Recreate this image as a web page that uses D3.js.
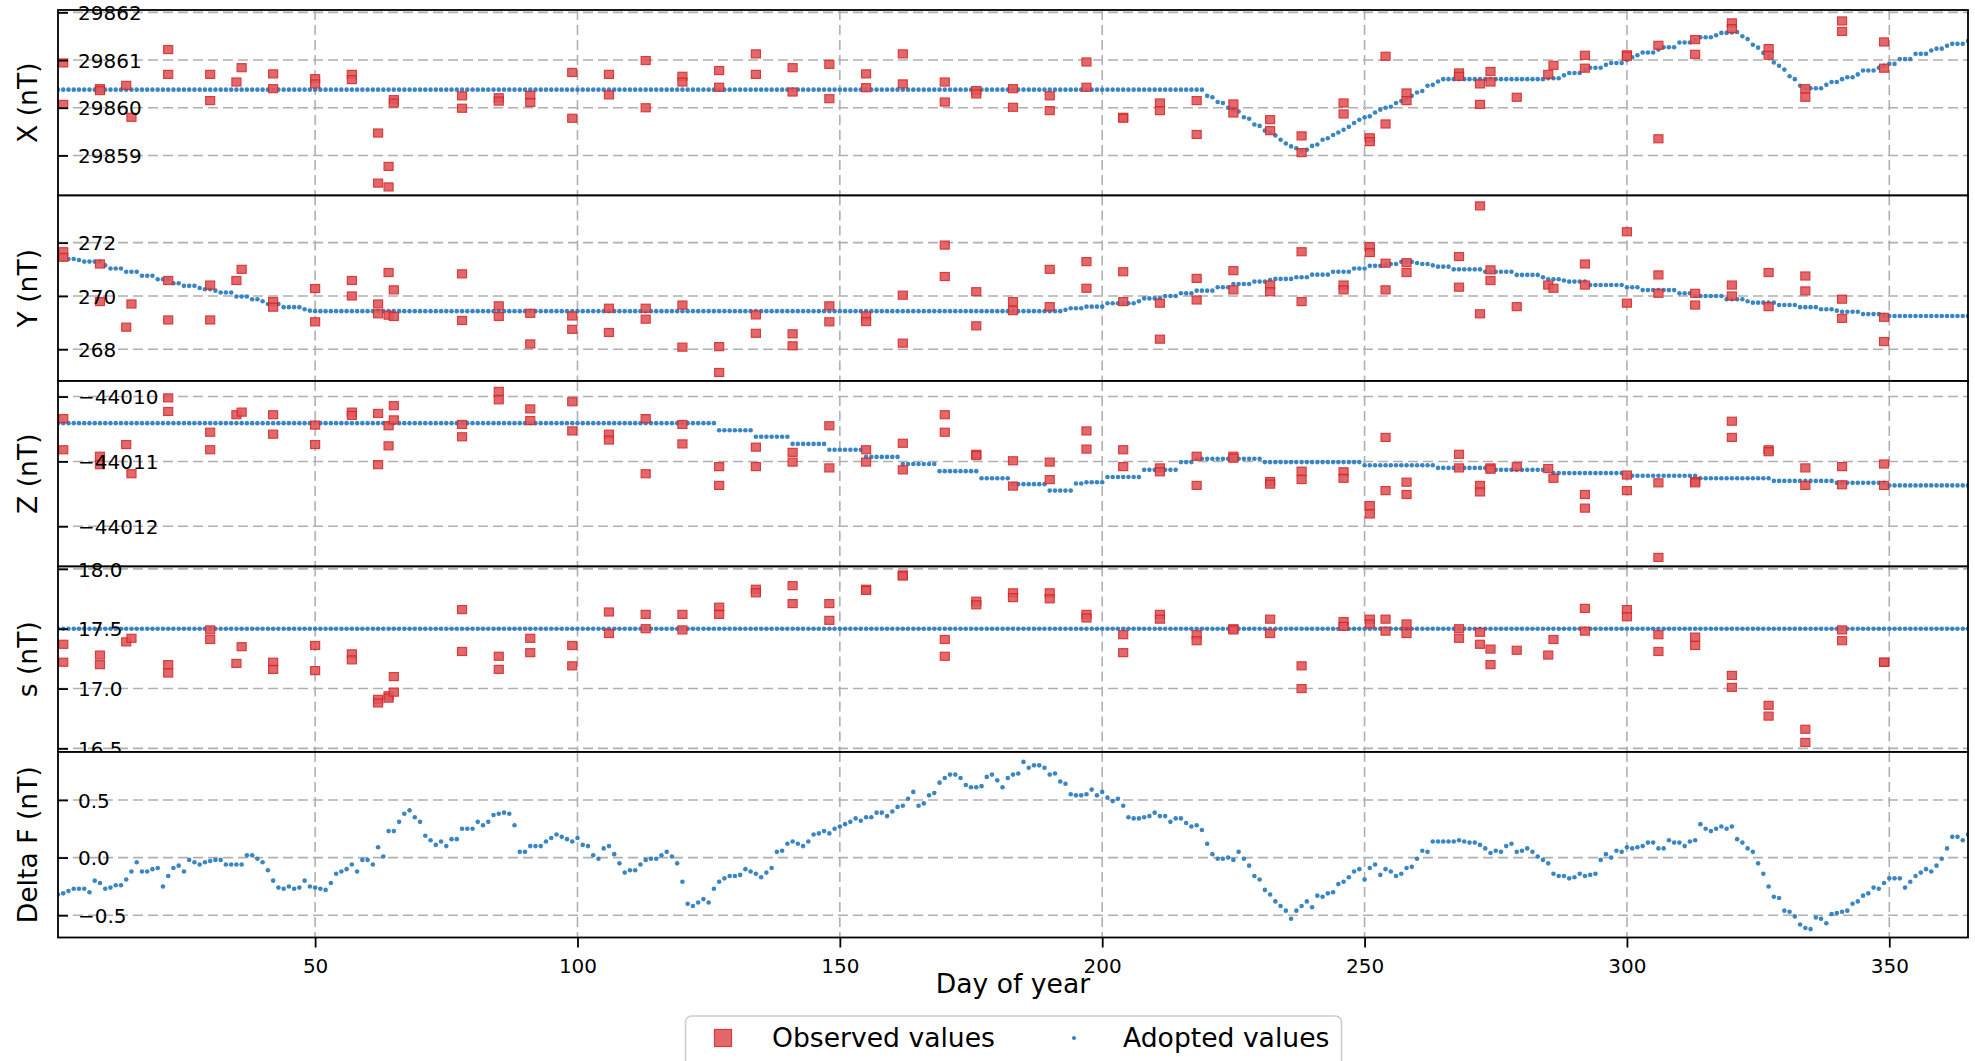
<!DOCTYPE html>
<html><head><meta charset="utf-8">
<script src="https://cdn.jsdelivr.net/npm/d3@7"></script>
<style>
html,body{margin:0;padding:0;background:#fff;}
svg{display:block;font-family:"DejaVu Sans",sans-serif;}
</style></head><body>
<svg id="chart" width="1975" height="1061"></svg>
<script>
// ---------------- DATA ----------------
const xTickDays = [50,100,150,200,250,300,350];
const xPanelTicks = [29859,29860,29861,29862];
const yPanelTicks = [268,270,272];
const zPanelTicks = [-44012,-44011,-44010];
const sPanelTicks = [16.5,17.0,17.5,18.0];
const dfPanelTicks = [-0.5,0.0,0.5];

// days of the weekly absolute observations (shared by X, Y, Z, s)
const obsDays = [2,2,9,9,14,15,22,22,30,30,35,36,42,42,50,50,57,57,62,62,64,64,65,65,78,78,85,85,91,91,99,99,
106,106,113,113,120,120,127,127,134,134,141,141,148,148,155,155,162,162,170,170,176,176,183,183,190,190,197,197,
204,204,211,211,218,218,225,225,232,232,238,238,246,246,251,251,254,254,258,258,268,268,272,272,274,274,279,285,286,
292,292,300,300,306,306,313,313,320,320,327,327,334,334,341,341,349,349];

const xObserved = [29860.94,29860.07, 29860.40,29860.36, 29860.47, 29859.80, 29861.22,29860.70, 29860.70,29860.15,
29860.54, 29860.84, 29860.71,29860.40, 29860.61,29860.50, 29860.70,29860.59, 29859.47,29858.42, 29858.77,29858.34,
29860.17,29860.10, 29860.25,29859.99, 29860.21,29860.14, 29860.26,29860.11, 29860.74,29859.78, 29860.70,29860.27,
29860.99,29860.00, 29860.66,29860.54, 29860.78,29860.43, 29861.13,29860.70, 29860.84,29860.33, 29860.91,29860.19,
29860.71,29860.42, 29861.13,29860.50, 29860.54,29860.12, 29860.36,29860.29, 29860.40,29860.01, 29860.25,29859.94,
29860.96,29860.43, 29859.80,29859.78, 29860.10,29859.94, 29860.15,29859.44, 29860.08,29859.89, 29859.75,29859.52,
29859.41,29859.06, 29860.10,29859.87, 29859.37,29859.29, 29861.08,29859.66, 29860.31,29860.15, 29860.73,29860.66,
29860.50,29860.07, 29860.76,29860.54, 29860.22, 29860.70, 29860.89, 29861.10,29860.83, 29861.11,29861.08,
29861.31,29859.35, 29861.43,29861.12, 29861.78,29861.66, 29861.24,29861.10, 29860.40,29860.22, 29861.82,29861.60,
29861.38,29860.83];

const yObserved = [271.66,271.45, 271.20,269.79, 268.83, 269.70, 270.58,269.10, 270.41,269.10,
270.58, 271.00, 269.79,269.58, 270.28,269.03, 270.58,270.00, 269.70,269.33, 270.88,269.28,
270.23,269.23, 270.83,269.08, 269.63,269.23, 269.35,268.20, 269.25,268.75, 269.54,268.63,
269.54,269.13, 269.66,268.08, 268.10,267.13, 269.29,268.60, 268.58,268.13, 269.63,269.03,
269.25,269.04, 270.03,268.23, 271.91,270.73, 270.16,268.88, 269.79,269.45, 271.00,269.60,
271.29,270.29, 270.91,269.79, 269.73,268.38, 270.66,269.85, 270.95,270.23, 270.41,270.16,
271.66,269.79, 270.41,270.23, 271.85,271.63, 271.23,270.23, 271.25,270.88, 271.48,270.33,
273.38,269.33, 270.98,270.58, 269.60, 270.41, 270.29, 271.20,270.41, 272.41,269.73,
270.79,270.10, 270.10,269.66, 270.41,270.00, 270.88,269.60, 270.75,270.19, 269.88,269.16,
269.20,268.29];

const zObserved = [-44010.34,-44010.82, -44010.92,-44011.05, -44010.74, -44011.19, -44010.02,-44010.23, -44010.55,-44010.82,
-44010.28, -44010.24, -44010.28,-44010.58, -44010.44,-44010.74, -44010.24,-44010.29, -44010.26,-44011.05, -44010.45,-44010.76,
-44010.14,-44010.36, -44010.43,-44010.62, -44009.92,-44010.05, -44010.19,-44010.37, -44010.08,-44010.53, -44010.58,-44010.67,
-44010.34,-44011.19, -44010.43,-44010.73, -44011.08,-44011.37, -44010.78,-44011.08, -44010.86,-44011.01, -44010.45,-44011.10,
-44010.82,-44011.01, -44010.72,-44011.13, -44010.28,-44010.55, -44010.89,-44010.91, -44010.99,-44011.38, -44011.01,-44011.28,
-44010.53,-44010.81, -44010.82,-44011.08, -44011.10,-44011.16, -44010.92,-44011.37, -44010.92,-44010.95, -44011.31,-44011.35,
-44011.15,-44011.28, -44011.16,-44011.26, -44011.68,-44011.81, -44010.63,-44011.45, -44011.32,-44011.51, -44010.89,-44011.10,
-44011.37,-44011.47, -44011.10,-44011.12, -44011.08, -44011.11, -44011.26, -44011.51,-44011.72, -44011.21,-44011.45,
-44011.33,-44012.48, -44011.31,-44011.33, -44010.38,-44010.63, -44010.82,-44010.85, -44011.10,-44011.37, -44011.08,-44011.36,
-44011.04,-44011.37];

const sObserved = [17.37,17.22, 17.28,17.20, 17.39, 17.42, 17.20,17.13, 17.49,17.41,
17.21, 17.35, 17.22,17.16, 17.36,17.15, 17.29,17.24, 16.91,16.88, 16.94,16.92,
17.10,16.97, 17.66,17.31, 17.27,17.16, 17.42,17.30, 17.36,17.19, 17.64,17.46,
17.62,17.50, 17.62,17.49, 17.68,17.62, 17.83,17.80, 17.86,17.71, 17.71,17.57,
17.83,17.82, 17.95,17.94, 17.41,17.27, 17.73,17.70, 17.80,17.76, 17.80,17.75,
17.62,17.59, 17.45,17.30, 17.62,17.58, 17.45,17.40, 17.50,17.49, 17.58,17.46,
17.19,17.00, 17.56,17.52, 17.58,17.54, 17.58,17.48, 17.54,17.46, 17.50,17.42,
17.47,17.37, 17.33,17.20, 17.32, 17.28, 17.41, 17.67,17.48, 17.66,17.60,
17.45,17.31, 17.43,17.36, 17.11,17.01, 16.86,16.77, 16.66,16.55, 17.49,17.40,
17.22,17.22];

// adopted daily baseline values, day 1..365
const xAdopted = [
29860.38,29860.38,29860.38,29860.38,29860.38,29860.38,29860.38,29860.38,29860.38,29860.38,
29860.38,29860.38,29860.38,29860.38,29860.38,29860.38,29860.38,29860.38,29860.38,29860.38,
29860.38,29860.38,29860.38,29860.38,29860.38,29860.38,29860.38,29860.38,29860.38,29860.38,
29860.38,29860.38,29860.38,29860.38,29860.38,29860.38,29860.38,29860.38,29860.38,29860.38,
29860.38,29860.38,29860.38,29860.38,29860.38,29860.38,29860.38,29860.38,29860.38,29860.38,
29860.38,29860.38,29860.38,29860.38,29860.38,29860.38,29860.38,29860.38,29860.38,29860.38,
29860.38,29860.38,29860.38,29860.38,29860.38,29860.38,29860.38,29860.38,29860.38,29860.38,
29860.38,29860.38,29860.38,29860.38,29860.38,29860.38,29860.38,29860.38,29860.38,29860.38,
29860.38,29860.38,29860.38,29860.38,29860.38,29860.38,29860.38,29860.38,29860.38,29860.38,
29860.38,29860.38,29860.38,29860.38,29860.38,29860.38,29860.38,29860.38,29860.38,29860.38,
29860.38,29860.38,29860.38,29860.38,29860.38,29860.38,29860.38,29860.38,29860.38,29860.38,
29860.38,29860.38,29860.38,29860.38,29860.38,29860.38,29860.38,29860.38,29860.38,29860.38,
29860.38,29860.38,29860.38,29860.38,29860.38,29860.38,29860.38,29860.38,29860.38,29860.38,
29860.38,29860.38,29860.38,29860.38,29860.38,29860.38,29860.38,29860.38,29860.38,29860.38,
29860.38,29860.38,29860.38,29860.38,29860.38,29860.38,29860.38,29860.38,29860.38,29860.38,
29860.38,29860.38,29860.38,29860.38,29860.38,29860.38,29860.38,29860.38,29860.38,29860.38,
29860.38,29860.38,29860.38,29860.38,29860.38,29860.38,29860.38,29860.38,29860.38,29860.38,
29860.38,29860.38,29860.38,29860.38,29860.38,29860.38,29860.38,29860.38,29860.38,29860.38,
29860.38,29860.38,29860.38,29860.38,29860.38,29860.38,29860.38,29860.38,29860.38,29860.38,
29860.38,29860.38,29860.38,29860.38,29860.38,29860.38,29860.38,29860.38,29860.38,29860.38,
29860.38,29860.38,29860.38,29860.38,29860.38,29860.38,29860.38,29860.38,29860.38,29860.38,
29860.38,29860.38,29860.38,29860.38,29860.38,29860.38,29860.38,29860.38,29860.38,
29860.25,29860.22,29860.12,29860.10,29860.00,29859.95,29859.92,29859.80,29859.77,29859.65,
29859.62,29859.52,29859.48,29859.42,29859.33,29859.25,29859.19,29859.15,29859.10,29859.12,
29859.20,29859.23,29859.33,29859.36,29859.43,29859.48,29859.54,29859.60,29859.68,29859.75,
29859.80,29859.82,29859.90,29859.96,29860.00,29860.02,29860.10,29860.14,29860.19,29860.25,
29860.32,29860.35,29860.46,29860.48,29860.55,29860.60,29860.60,29860.60,29860.60,29860.60,
29860.60,29860.60,29860.60,29860.60,29860.60,29860.60,29860.60,29860.60,29860.60,29860.60,
29860.60,29860.60,29860.60,29860.60,29860.60,29860.62,29860.62,29860.62,29860.68,29860.73,
29860.73,29860.73,29860.80,29860.84,29860.84,29860.84,29860.90,29860.94,29860.94,29860.94,
29861.00,29861.06,29861.10,29861.16,29861.16,29861.16,29861.22,29861.27,29861.27,29861.27,
29861.37,29861.37,29861.37,29861.42,29861.48,29861.48,29861.48,29861.52,29861.57,29861.57,
29861.58,29861.59,29861.50,29861.44,29861.32,29861.26,29861.15,29861.09,29860.95,29860.88,
29860.80,29860.66,29860.60,29860.46,29860.41,29860.41,29860.41,29860.41,29860.48,29860.54,
29860.54,29860.60,29860.64,29860.64,29860.70,29860.78,29860.78,29860.78,29860.84,29860.88,
29860.92,29860.92,29861.02,29861.02,29861.02,29861.13,29861.13,29861.13,29861.20,29861.24,
29861.24,29861.30,29861.34,29861.34,29861.34,29861.40];

const yAdopted = [
271.40,271.39,271.39,271.39,271.35,271.29,271.29,271.29,271.29,271.15,
271.03,271.03,271.03,270.91,270.91,270.91,270.76,270.76,270.76,270.63,
270.63,270.63,270.48,270.48,270.38,270.38,270.38,270.30,270.25,270.25,
270.20,270.13,270.13,270.13,269.98,269.98,269.98,269.88,269.88,269.80,
269.70,269.70,269.70,269.58,269.58,269.58,269.58,269.50,269.45,269.43,
269.43,269.43,269.43,269.43,269.43,269.43,269.43,269.43,269.43,269.43,
269.43,269.43,269.43,269.43,269.43,269.43,269.43,269.43,269.43,269.43,
269.43,269.43,269.43,269.43,269.43,269.43,269.43,269.43,269.43,269.43,
269.43,269.43,269.43,269.43,269.43,269.43,269.43,269.43,269.43,269.43,
269.43,269.43,269.43,269.43,269.43,269.43,269.43,269.43,269.43,269.43,
269.43,269.43,269.43,269.43,269.43,269.43,269.43,269.43,269.43,269.43,
269.43,269.43,269.43,269.43,269.43,269.43,269.43,269.43,269.43,269.43,
269.43,269.43,269.43,269.43,269.43,269.43,269.43,269.43,269.43,269.43,
269.43,269.43,269.43,269.43,269.43,269.43,269.43,269.43,269.43,269.43,
269.43,269.43,269.43,269.43,269.43,269.43,269.43,269.43,269.43,269.43,
269.43,269.43,269.43,269.43,269.43,269.43,269.43,269.43,269.43,269.43,
269.43,269.43,269.43,269.43,269.43,269.43,269.43,269.43,269.43,269.43,
269.43,269.43,269.43,269.43,269.43,269.43,269.43,269.43,269.43,269.43,
269.43,269.43,269.43,269.43,269.43,269.43,269.43,269.43,269.43,269.43,
269.43,269.43,269.48,269.54,269.54,269.54,269.60,269.60,269.60,269.60,
269.73,269.73,269.73,269.73,269.73,269.73,269.80,269.91,269.91,269.91,
269.91,270.00,270.00,270.00,270.10,270.10,270.10,270.20,270.20,270.20,
270.20,270.33,270.33,270.33,270.45,270.45,270.45,270.45,270.54,270.54,
270.54,270.60,270.64,270.64,270.64,270.64,270.70,270.70,270.70,270.80,
270.80,270.80,270.80,270.91,270.91,270.91,270.91,271.03,271.03,271.03,
271.13,271.13,271.13,271.16,271.20,271.20,271.28,271.28,271.28,271.24,
271.20,271.20,271.15,271.10,271.10,271.10,271.00,271.00,271.00,271.00,
271.00,271.00,270.91,270.91,270.91,270.91,270.91,270.91,270.79,270.79,
270.79,270.79,270.79,270.70,270.63,270.63,270.63,270.58,270.54,270.54,
270.54,270.54,270.41,270.41,270.41,270.41,270.41,270.41,270.41,270.33,
270.33,270.33,270.22,270.22,270.22,270.22,270.22,270.22,270.22,270.10,
270.10,270.10,270.00,270.00,270.00,270.00,270.00,270.00,269.88,269.88,
269.88,269.88,269.80,269.75,269.75,269.75,269.75,269.75,269.66,269.66,
269.66,269.66,269.58,269.58,269.58,269.58,269.50,269.50,269.50,269.45,
269.41,269.41,269.41,269.41,269.32,269.32,269.32,269.32,269.28,269.25,
269.25,269.25,269.25,269.25,269.25,269.25,269.25,269.25,269.25,269.25,
269.25,269.25,269.25,269.25,269.25];

const zAdopted = [
-44010.41,-44010.41,-44010.41,-44010.41,-44010.41,-44010.41,-44010.41,-44010.41,-44010.41,-44010.41,
-44010.41,-44010.41,-44010.41,-44010.41,-44010.41,-44010.41,-44010.41,-44010.41,-44010.41,-44010.41,
-44010.41,-44010.41,-44010.41,-44010.41,-44010.41,-44010.41,-44010.41,-44010.41,-44010.41,-44010.41,
-44010.41,-44010.41,-44010.41,-44010.41,-44010.41,-44010.41,-44010.41,-44010.41,-44010.41,-44010.41,
-44010.41,-44010.41,-44010.41,-44010.41,-44010.41,-44010.41,-44010.41,-44010.41,-44010.41,-44010.41,
-44010.41,-44010.41,-44010.41,-44010.41,-44010.41,-44010.41,-44010.41,-44010.41,-44010.41,-44010.41,
-44010.41,-44010.41,-44010.41,-44010.41,-44010.41,-44010.41,-44010.41,-44010.41,-44010.41,-44010.41,
-44010.41,-44010.41,-44010.41,-44010.41,-44010.41,-44010.41,-44010.41,-44010.41,-44010.41,-44010.41,
-44010.41,-44010.41,-44010.41,-44010.41,-44010.41,-44010.41,-44010.41,-44010.41,-44010.41,-44010.41,
-44010.41,-44010.41,-44010.41,-44010.41,-44010.41,-44010.41,-44010.41,-44010.41,-44010.41,-44010.41,
-44010.41,-44010.41,-44010.41,-44010.41,-44010.41,-44010.41,-44010.41,-44010.41,-44010.41,-44010.41,
-44010.41,-44010.41,-44010.41,-44010.41,-44010.41,-44010.41,-44010.41,-44010.41,-44010.41,-44010.41,
-44010.41,-44010.41,-44010.41,-44010.41,-44010.41,-44010.41,-44010.52,-44010.52,-44010.52,-44010.52,
-44010.52,-44010.52,-44010.52,-44010.62,-44010.62,-44010.62,-44010.62,-44010.62,-44010.62,-44010.62,
-44010.73,-44010.73,-44010.73,-44010.73,-44010.73,-44010.73,-44010.73,-44010.82,-44010.82,-44010.82,
-44010.82,-44010.82,-44010.82,-44010.82,-44010.93,-44010.93,-44010.93,-44010.93,-44010.93,-44010.93,
-44010.93,-44011.04,-44011.04,-44011.04,-44011.04,-44011.04,-44011.04,-44011.04,-44011.15,-44011.15,
-44011.15,-44011.15,-44011.15,-44011.15,-44011.15,-44011.15,-44011.26,-44011.26,-44011.26,-44011.26,
-44011.26,-44011.26,-44011.35,-44011.35,-44011.35,-44011.35,-44011.35,-44011.35,-44011.35,-44011.45,
-44011.45,-44011.45,-44011.45,-44011.45,-44011.34,-44011.34,-44011.32,-44011.32,-44011.32,-44011.32,
-44011.24,-44011.24,-44011.24,-44011.24,-44011.24,-44011.24,-44011.24,-44011.13,-44011.13,-44011.13,
-44011.13,-44011.13,-44011.13,-44011.13,-44011.01,-44011.01,-44011.01,-44010.96,-44010.96,-44010.96,
-44010.96,-44010.96,-44010.96,-44010.96,-44010.96,-44010.96,-44010.96,-44010.96,-44010.96,-44010.96,
-44011.01,-44011.01,-44011.01,-44011.01,-44011.01,-44011.01,-44011.01,-44011.01,-44011.01,-44011.01,
-44011.01,-44011.01,-44011.01,-44011.01,-44011.01,-44011.01,-44011.01,-44011.01,-44011.01,-44011.06,
-44011.06,-44011.06,-44011.06,-44011.06,-44011.06,-44011.06,-44011.06,-44011.06,-44011.06,-44011.06,
-44011.06,-44011.06,-44011.06,-44011.10,-44011.10,-44011.10,-44011.10,-44011.10,-44011.10,-44011.10,
-44011.10,-44011.10,-44011.10,-44011.10,-44011.13,-44011.13,-44011.13,-44011.13,-44011.13,-44011.13,
-44011.13,-44011.13,-44011.13,-44011.13,-44011.13,-44011.18,-44011.18,-44011.18,-44011.18,-44011.18,
-44011.18,-44011.18,-44011.18,-44011.18,-44011.18,-44011.18,-44011.18,-44011.18,-44011.18,-44011.22,
-44011.22,-44011.22,-44011.22,-44011.22,-44011.22,-44011.22,-44011.22,-44011.22,-44011.22,-44011.22,
-44011.22,-44011.22,-44011.22,-44011.26,-44011.26,-44011.26,-44011.26,-44011.26,-44011.26,-44011.26,
-44011.26,-44011.26,-44011.26,-44011.26,-44011.26,-44011.26,-44011.26,-44011.30,-44011.30,-44011.30,
-44011.30,-44011.30,-44011.30,-44011.30,-44011.30,-44011.30,-44011.30,-44011.30,-44011.30,-44011.33,
-44011.33,-44011.33,-44011.33,-44011.33,-44011.33,-44011.33,-44011.33,-44011.33,-44011.33,-44011.37,
-44011.37,-44011.37,-44011.37,-44011.37,-44011.37,-44011.37,-44011.37,-44011.37,-44011.37,-44011.37,
-44011.37,-44011.37,-44011.37,-44011.37,-44011.37];

const sAdopted = [
17.5,17.5,17.5,17.5,17.5,17.5,17.5,17.5,17.5,17.5,17.5,17.5,17.5,17.5,17.5,17.5,17.5,17.5,17.5,17.5,
17.5,17.5,17.5,17.5,17.5,17.5,17.5,17.5,17.5,17.5,17.5,17.5,17.5,17.5,17.5,17.5,17.5,17.5,17.5,17.5,
17.5,17.5,17.5,17.5,17.5,17.5,17.5,17.5,17.5,17.5,17.5,17.5,17.5,17.5,17.5,17.5,17.5,17.5,17.5,17.5,
17.5,17.5,17.5,17.5,17.5,17.5,17.5,17.5,17.5,17.5,17.5,17.5,17.5,17.5,17.5,17.5,17.5,17.5,17.5,17.5,
17.5,17.5,17.5,17.5,17.5,17.5,17.5,17.5,17.5,17.5,17.5,17.5,17.5,17.5,17.5,17.5,17.5,17.5,17.5,17.5,
17.5,17.5,17.5,17.5,17.5,17.5,17.5,17.5,17.5,17.5,17.5,17.5,17.5,17.5,17.5,17.5,17.5,17.5,17.5,17.5,
17.5,17.5,17.5,17.5,17.5,17.5,17.5,17.5,17.5,17.5,17.5,17.5,17.5,17.5,17.5,17.5,17.5,17.5,17.5,17.5,
17.5,17.5,17.5,17.5,17.5,17.5,17.5,17.5,17.5,17.5,17.5,17.5,17.5,17.5,17.5,17.5,17.5,17.5,17.5,17.5,
17.5,17.5,17.5,17.5,17.5,17.5,17.5,17.5,17.5,17.5,17.5,17.5,17.5,17.5,17.5,17.5,17.5,17.5,17.5,17.5,
17.5,17.5,17.5,17.5,17.5,17.5,17.5,17.5,17.5,17.5,17.5,17.5,17.5,17.5,17.5,17.5,17.5,17.5,17.5,17.5,
17.5,17.5,17.5,17.5,17.5,17.5,17.5,17.5,17.5,17.5,17.5,17.5,17.5,17.5,17.5,17.5,17.5,17.5,17.5,17.5,
17.5,17.5,17.5,17.5,17.5,17.5,17.5,17.5,17.5,17.5,17.5,17.5,17.5,17.5,17.5,17.5,17.5,17.5,17.5,17.5,
17.5,17.5,17.5,17.5,17.5,17.5,17.5,17.5,17.5,17.5,17.5,17.5,17.5,17.5,17.5,17.5,17.5,17.5,17.5,17.5,
17.5,17.5,17.5,17.5,17.5,17.5,17.5,17.5,17.5,17.5,17.5,17.5,17.5,17.5,17.5,17.5,17.5,17.5,17.5,17.5,
17.5,17.5,17.5,17.5,17.5,17.5,17.5,17.5,17.5,17.5,17.5,17.5,17.5,17.5,17.5,17.5,17.5,17.5,17.5,17.5,
17.5,17.5,17.5,17.5,17.5,17.5,17.5,17.5,17.5,17.5,17.5,17.5,17.5,17.5,17.5,17.5,17.5,17.5,17.5,17.5,
17.5,17.5,17.5,17.5,17.5,17.5,17.5,17.5,17.5,17.5,17.5,17.5,17.5,17.5,17.5,17.5,17.5,17.5,17.5,17.5,
17.5,17.5,17.5,17.5,17.5,17.5,17.5,17.5,17.5,17.5,17.5,17.5,17.5,17.5,17.5,17.5,17.5,17.5,17.5,17.5,
17.5,17.5,17.5,17.5,17.5];

const deltaF = [
-0.32,-0.31,-0.29,-0.27,-0.27,-0.27,-0.30,-0.20,-0.22,-0.27,
-0.26,-0.24,-0.24,-0.19,-0.12,-0.04,-0.12,-0.12,-0.10,-0.09,
-0.25,-0.16,-0.09,-0.07,-0.12,-0.02,-0.04,-0.06,-0.04,-0.03,
-0.02,-0.02,-0.06,-0.06,-0.06,-0.06,0.02,0.02,-0.01,-0.04,
-0.11,-0.20,-0.26,-0.27,-0.25,-0.27,-0.26,-0.20,-0.25,-0.26,
-0.27,-0.28,-0.22,-0.14,-0.12,-0.10,-0.06,-0.12,-0.02,-0.02,
-0.06,0.09,0.01,0.23,0.23,0.31,0.38,0.41,0.35,0.31,
0.19,0.15,0.11,0.14,0.10,0.16,0.16,0.25,0.25,0.25,
0.31,0.28,0.31,0.37,0.38,0.39,0.38,0.28,0.05,0.05,
0.10,0.10,0.10,0.14,0.17,0.20,0.18,0.16,0.14,0.17,
0.11,0.10,0.02,-0.01,0.08,0.10,0.03,-0.05,-0.13,-0.11,
-0.11,-0.06,-0.02,-0.01,-0.01,0.02,0.05,0.01,-0.05,-0.21,
-0.40,-0.42,-0.39,-0.36,-0.39,-0.27,-0.21,-0.18,-0.16,-0.16,
-0.15,-0.10,-0.12,-0.14,-0.17,-0.13,-0.09,0.05,0.06,0.12,
0.14,0.12,0.10,0.14,0.20,0.21,0.23,0.21,0.25,0.27,
0.29,0.31,0.34,0.32,0.35,0.35,0.39,0.39,0.36,0.40,
0.44,0.45,0.51,0.57,0.45,0.47,0.54,0.56,0.65,0.69,
0.72,0.72,0.69,0.63,0.61,0.61,0.62,0.70,0.72,0.67,
0.61,0.69,0.72,0.73,0.83,0.78,0.80,0.80,0.78,0.72,
0.73,0.66,0.64,0.55,0.54,0.54,0.55,0.59,0.54,0.57,
0.52,0.49,0.51,0.45,0.35,0.34,0.34,0.35,0.36,0.39,
0.36,0.36,0.31,0.34,0.34,0.30,0.27,0.28,0.24,0.12,
0.03,-0.01,-0.01,0.00,-0.02,0.05,-0.01,-0.07,-0.16,-0.19,
-0.28,-0.32,-0.38,-0.42,-0.46,-0.53,-0.46,-0.42,-0.38,-0.43,
-0.33,-0.34,-0.31,-0.30,-0.23,-0.21,-0.17,-0.12,-0.10,-0.19,
-0.09,-0.06,-0.15,-0.10,-0.12,-0.16,-0.14,-0.09,-0.08,-0.01,
0.06,0.05,0.14,0.14,0.14,0.14,0.14,0.15,0.14,0.13,
0.13,0.11,0.08,0.04,0.06,0.05,0.10,0.12,0.05,0.06,
0.08,0.05,0.01,-0.02,-0.05,-0.14,-0.16,-0.16,-0.18,-0.17,
-0.14,-0.16,-0.15,-0.14,-0.02,0.03,0.00,0.06,0.05,0.09,
0.08,0.09,0.10,0.13,0.13,0.08,0.08,0.15,0.13,0.13,
0.10,0.14,0.15,0.29,0.25,0.23,0.25,0.27,0.25,0.27,
0.16,0.13,0.08,0.05,-0.05,-0.14,-0.25,-0.34,-0.35,-0.46,
-0.47,-0.51,-0.58,-0.61,-0.62,-0.52,-0.53,-0.57,-0.49,-0.48,
-0.47,-0.46,-0.40,-0.38,-0.33,-0.31,-0.26,-0.27,-0.22,-0.18,
-0.18,-0.18,-0.26,-0.21,-0.16,-0.13,-0.10,-0.12,-0.07,-0.01,
0.08,0.18,0.18,0.15,0.20];

// ---------------- DRAW ----------------
const svg = d3.select("#chart");
const W = 1975, H = 1061;
const L = 58, R = 1968, TOP = 10, PH = 185.5;
const FONT = '"DejaVu Sans", sans-serif';
const minus = s => s.replace("-", "\u2212");

const x = d3.scaleLinear().domain([1, 365]).range([L, R]);

const panels = [
  {label: "X (nT)", adopted: xAdopted, obs: xObserved, domain: [29858.16, 29862.05], ticks: xPanelTicks, fmt: d => minus(d3.format("d")(d))},
  {label: "Y (nT)", adopted: yAdopted, obs: yObserved, domain: [266.81, 273.77], ticks: yPanelTicks, fmt: d => minus(d3.format("d")(d))},
  {label: "Z (nT)", adopted: zAdopted, obs: zObserved, domain: [-44012.62, -44009.76], ticks: zPanelTicks, fmt: d => minus(d3.format("d")(d))},
  {label: "s (nT)", adopted: sAdopted, obs: sObserved, domain: [16.47, 18.02], ticks: sPanelTicks, fmt: d => minus(d3.format(".1f")(d))},
  {label: "Delta F (nT)", adopted: deltaF, obs: null, domain: [-0.693, 0.916], ticks: dfPanelTicks, fmt: d => minus(d3.format(".1f")(d))}
];

const defs = svg.append("defs");
const gridColor = "#b0b0b0";
const blue = "#2f80c0";

panels.forEach((p, i) => {
  const y0 = TOP + i * PH;
  const y = d3.scaleLinear().domain(p.domain).range([y0 + PH, y0]);
  const g = svg.append("g");

  g.append("rect").attr("x", L).attr("y", y0).attr("width", R - L).attr("height", PH).attr("fill", "#fff");

  defs.append("clipPath").attr("id", "clip" + i)
    .append("rect").attr("x", L).attr("y", y0).attr("width", R - L).attr("height", PH);

  // grid
  const grid = g.append("g").attr("clip-path", `url(#clip${i})`)
    .attr("stroke", gridColor).attr("stroke-width", 1.6).attr("stroke-dasharray", "10,5");
  grid.selectAll("line.vx").data(xTickDays).join("line").attr("class", "vx")
    .attr("x1", d => x(d)).attr("x2", d => x(d)).attr("y1", y0).attr("y2", y0 + PH);
  grid.selectAll("line.hy").data(p.ticks).join("line").attr("class", "hy")
    .attr("x1", L).attr("x2", R).attr("y1", d => y(d)).attr("y2", d => y(d));

  const pg = g.append("g").attr("clip-path", `url(#clip${i})`);
  pg.append("g").selectAll("circle").data(p.adopted).join("circle")
    .attr("cx", (d, j) => x(j + 1)).attr("cy", d => y(d)).attr("r", 2.3)
    .attr("fill", blue).attr("fill-opacity", 0.95);

  if (p.obs) {
    pg.append("g").selectAll("rect").data(p.obs).join("rect")
      .attr("x", (d, j) => x(obsDays[j]) - 4.5).attr("y", d => y(d) - 4)
      .attr("width", 9).attr("height", 8)
      .attr("fill", "#e0585c").attr("stroke", "#d62728").attr("stroke-width", 1.2)
      .attr("opacity", 0.9);
  }

  // frame
  g.append("rect").attr("x", L).attr("y", y0).attr("width", R - L).attr("height", PH)
    .attr("fill", "none").attr("stroke", "#000").attr("stroke-width", 1.8);

  // y axis (ticks inward, labels inside)
  const ax = g.append("g").attr("transform", `translate(${L},0)`)
    .call(d3.axisRight(y).tickValues(p.ticks).tickSize(10).tickPadding(10).tickFormat(p.fmt));
  ax.select(".domain").remove();
  ax.attr("font-family", FONT).attr("font-size", 20);
  ax.selectAll(".tick line").attr("stroke", "#000").attr("stroke-width", 1.8);
  ax.selectAll(".tick text").attr("fill", "#000").attr("dy", "0.36em");

  // y label
  g.append("text")
    .attr("transform", `translate(36.5,${y0 + PH / 2}) rotate(-90)`)
    .attr("text-anchor", "middle").attr("font-family", FONT).attr("font-size", 26.6)
    .attr("fill", "#000").text(p.label);
});

// bottom x axis
const bottom = TOP + 5 * PH;
const xa = svg.append("g").attr("transform", `translate(0,${bottom})`)
  .call(d3.axisBottom(x).tickValues(xTickDays).tickSize(10).tickPadding(11.6).tickFormat(d3.format("d")));
xa.select(".domain").remove();
xa.attr("font-family", FONT).attr("font-size", 20);
xa.selectAll(".tick line").attr("stroke", "#000").attr("stroke-width", 1.8);
xa.selectAll(".tick text").attr("fill", "#000");

svg.append("text").attr("x", (L + R) / 2).attr("y", 993)
  .attr("text-anchor", "middle").attr("font-family", FONT).attr("font-size", 26.6)
  .attr("fill", "#000").text("Day of year");

// legend
const lg = svg.append("g");
lg.append("rect").attr("x", 685.5).attr("y", 1016).attr("width", 656).attr("height", 70).attr("rx", 6)
  .attr("fill", "#fff").attr("stroke", "#cccccc").attr("stroke-width", 1.6);
lg.append("rect").attr("x", 723 - 8.5).attr("y", 1038 - 8.5).attr("width", 17).attr("height", 17)
  .attr("fill", "#e0585c").attr("stroke", "#d62728").attr("stroke-width", 1.2).attr("opacity", 0.9);
lg.append("text").attr("x", 772).attr("y", 1046.5).attr("font-family", FONT).attr("font-size", 26.6)
  .attr("fill", "#000").text("Observed values");
lg.append("circle").attr("cx", 1074).attr("cy", 1038).attr("r", 2).attr("fill", blue);
lg.append("text").attr("x", 1123).attr("y", 1046.5).attr("font-family", FONT).attr("font-size", 26.6)
  .attr("fill", "#000").text("Adopted values");

// sanity check on array lengths
const bad = [["x", xAdopted], ["y", yAdopted], ["z", zAdopted], ["s", sAdopted], ["df", deltaF]]
  .filter(a => a[1].length !== 365).map(a => a[0] + ":" + a[1].length);
[["xo", xObserved], ["yo", yObserved], ["zo", zObserved], ["so", sObserved]].forEach(a => {
  if (a[1].length !== obsDays.length) bad.push(a[0] + ":" + a[1].length + "/" + obsDays.length);
});
if (bad.length) svg.append("text").attr("x", 1500).attr("y", 1000).attr("fill", "magenta")
  .attr("font-size", 20).text("LEN " + bad.join(" "));
</script>
</body></html>
